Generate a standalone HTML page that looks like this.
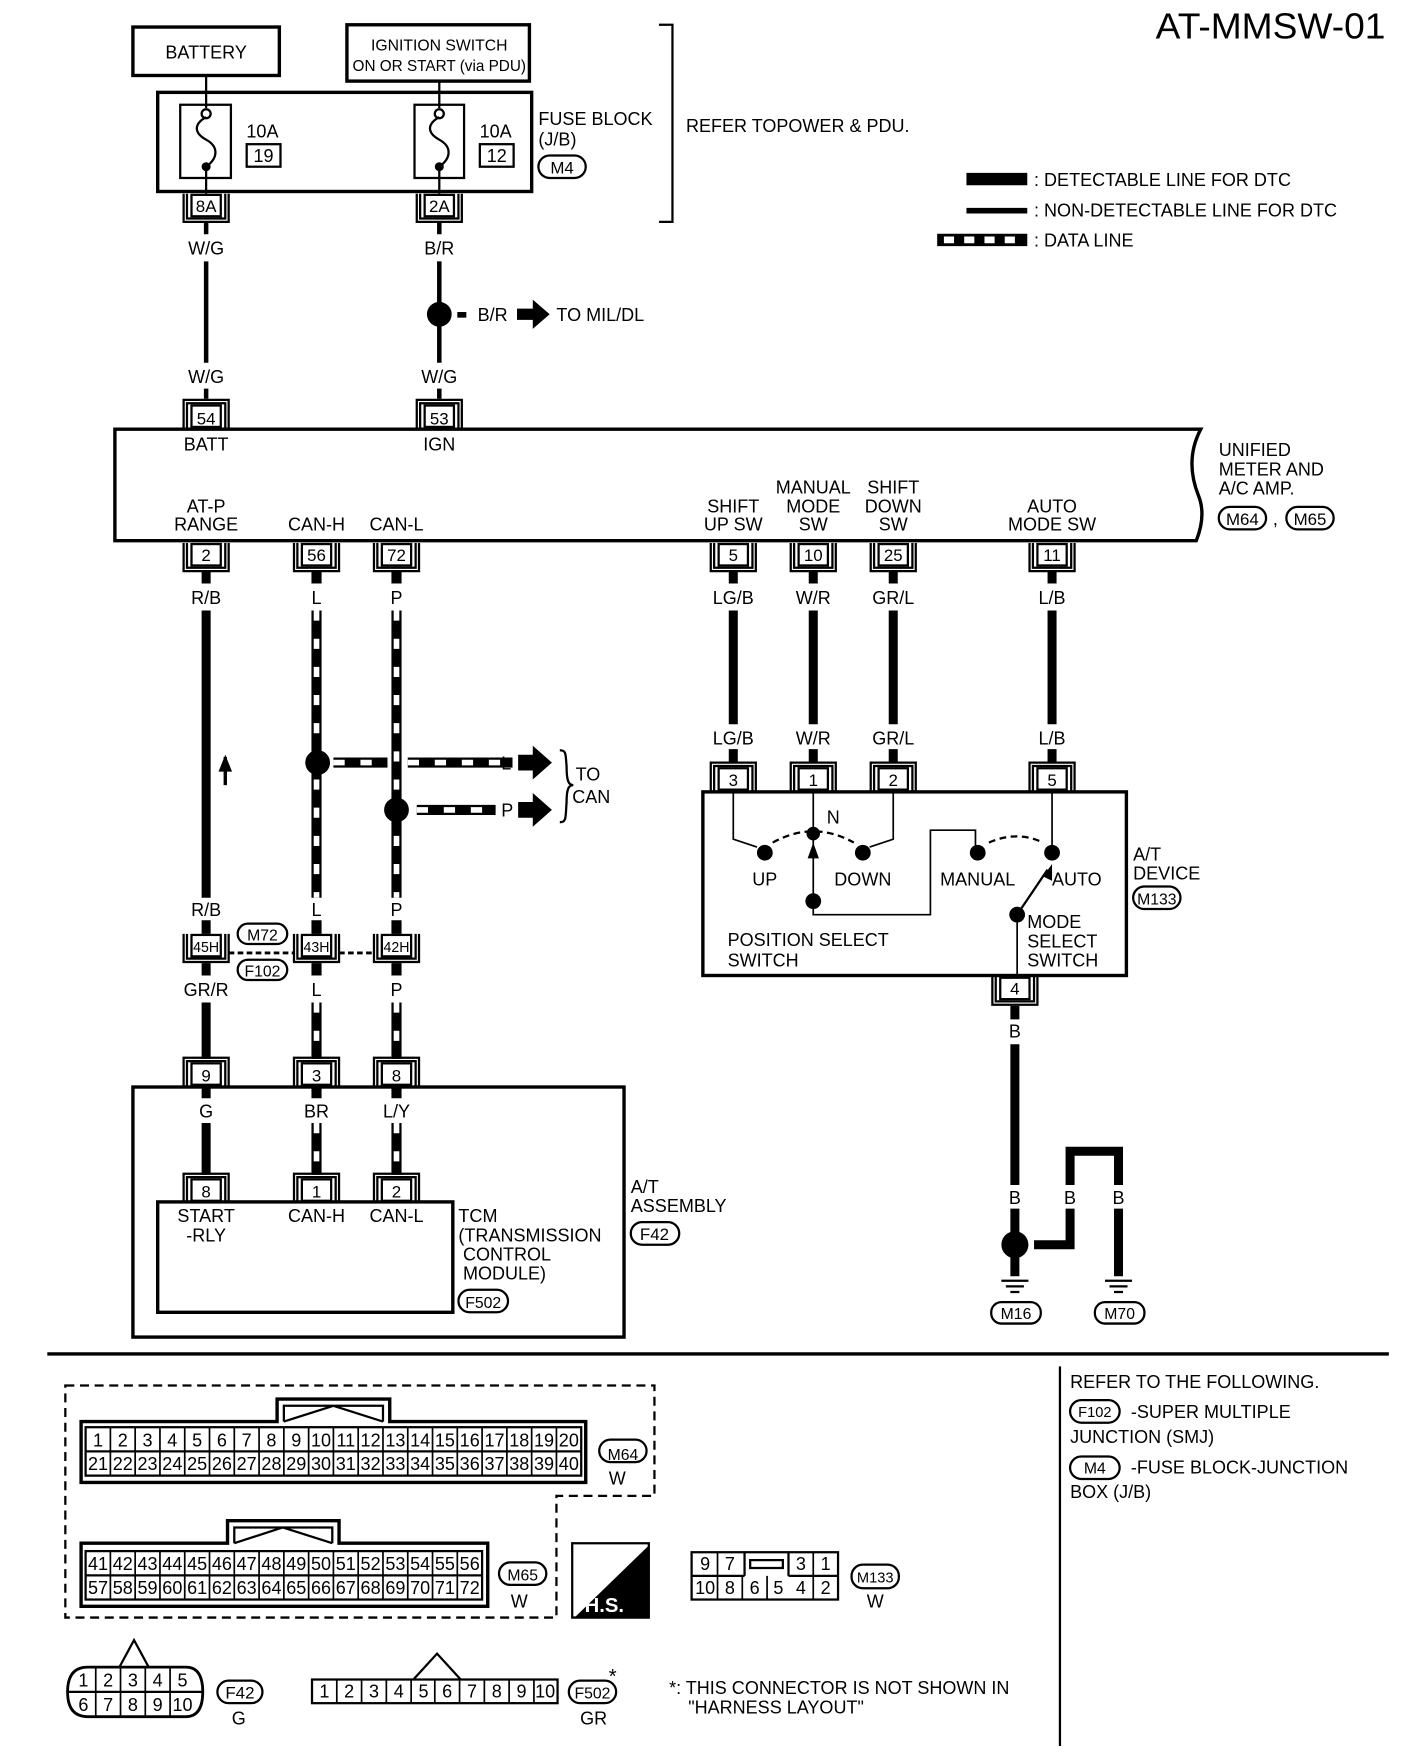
<!DOCTYPE html>
<html><head><meta charset="utf-8"><style>
html,body{margin:0;padding:0;background:#fff}
svg{display:block}
text{font-family:"Liberation Sans Narrow","Liberation Sans",sans-serif;fill:#000;font-size:16px}
.c{text-anchor:middle}
</style></head><body>
<svg width="1408" height="1764" viewBox="0 0 1250 1566" preserveAspectRatio="none" xmlns="http://www.w3.org/2000/svg">
<defs>
<g id="cd"><path d="M-20,0 V25 H20 V0 M-17,0 V22 H17 V0" fill="none" stroke="#000" stroke-width="2"/><rect x="-13" y="1" width="26" height="19" fill="#fff" stroke="#000" stroke-width="2"/></g>
<g id="cu"><path d="M-20,0 V-25 H20 V0 M-17,0 V-22 H17 V0" fill="none" stroke="#000" stroke-width="2"/><rect x="-13" y="-20" width="26" height="19" fill="#fff" stroke="#000" stroke-width="2"/></g>
<g id="gnd"><path d="M-12,0 H12 M-8,5 H8 M-4,10 H4" stroke="#000" stroke-width="2"/></g>
</defs>
<g fill="none" stroke="#000">
<rect x="118" y="24" width="130" height="43" stroke-width="3"/>
<rect x="308" y="22" width="162" height="50" stroke-width="3"/>
<path d="M585,22 H597 V197 H585" stroke-width="2"/>
<rect x="140" y="82" width="332" height="88" stroke-width="3"/>
<rect x="160" y="93" width="45" height="65" stroke-width="2"/>
<rect x="368" y="93" width="44" height="65" stroke-width="2"/>
<rect x="219" y="128" width="30" height="20" stroke-width="2"/>
<rect x="426" y="128" width="30" height="20" stroke-width="2"/>
<rect x="478" y="138" width="42" height="20" rx="10" stroke-width="2"/>
<path d="M183,67 V96 M390,72 V96" stroke-width="2"/>
<path d="M183,104 C172,110 172,118 183,124 C194,130 194,140 183,148 M390,104 C379,110 379,118 390,124 C401,130 401,140 390,148" stroke-width="2"/>
<circle cx="183" cy="101" r="4" stroke-width="2"/><circle cx="390" cy="101" r="4" stroke-width="2"/>
<path d="M183,150 V172 M390,150 V172" stroke-width="2"/>
<path d="M183,197 V208 M183,232 V322 M183,345 V354 M390,197 V208 M390,232 V322 M390,345 V354" stroke-width="4"/>
<path d="M102,381 H1066 C1056,400 1056,420 1064,440 C1070,455 1066,470 1062,480 H102 Z" stroke-width="3"/>
<rect x="1082" y="450" width="42" height="20" rx="10" stroke-width="2"/>
<rect x="1142" y="450" width="42" height="20" rx="10" stroke-width="2"/>
<path d="M183,507 V518 M183,542 V797 M183,817 V829 M183,855 V866 M183,890 V940 M183,964 V975 M183,997 V1043
M651,507 V518 M651,542 V643 M651,665 V677 M722,507 V518 M722,542 V643 M722,665 V677 M793,507 V518 M793,542 V643 M793,665 V677 M934,507 V518 M934,542 V643 M934,665 V677
M901,893 V905 M901,927 V1052 M901,1073 V1095 M901,1115 V1133 M993,1073 V1133 M993,1052 V1022 H950 V1052 M950,1073 V1105 H918" stroke-width="8"/>
<path d="M200,697 V672" stroke-width="3"/>
<path d="M281,507 V518 M281,542 V797 M281,817 V829 M281,855 V866 M281,890 V940 M281,964 V975 M281,997 V1043 M352,507 V518 M352,542 V797 M352,817 V829 M352,855 V866 M352,890 V940 M352,964 V975 M352,997 V1043 M296,677 H344 M362,677 H455 M370,719 H440" stroke-width="9"/>
<path d="M281,542 V797 M352,542 V797 M281,890 V940 M352,890 V940 M281,997 V1043 M352,997 V1043" stroke="#fff" stroke-width="5" stroke-dasharray="9 16"/>
<path d="M296,677 H344 M362,677 H455 M370,719 H440" stroke="#fff" stroke-width="5" stroke-dasharray="10 14"/>
<path d="M497,666 C503,666 502,670 503,680 C503,694 505,697 509,697 C505,697 503,700 503,712 C502,726 503,730 497,730" stroke-width="2"/>
<rect x="211" y="820" width="44" height="18" rx="9" stroke-width="2"/>
<rect x="211" y="852" width="44" height="18" rx="9" stroke-width="2"/>
<path d="M203,846 H261 M301,846 H332" stroke-width="2.5" stroke-dasharray="5 3"/>
<rect x="624" y="703" width="376" height="163" stroke-width="3"/>
<path d="M651,703 V745 L672,752 M793,703 V745 L772,752 M722,703 V800 M722,800 V812 H826 V737 H866 V752 M934,703 V752 M903,812 V867" stroke-width="1.5"/>
<path d="M686,748 Q722,728 758,748 M878,748 Q903,737 926,748" stroke-width="2" stroke-dasharray="6 4"/>
<path d="M903,812 L930,772" stroke-width="2"/>
<rect x="1006" y="787" width="42" height="20" rx="10" stroke-width="2"/>
<rect x="118" y="965" width="436" height="222" stroke-width="3"/>
<rect x="140" y="1067" width="262" height="98" stroke-width="3"/>
<rect x="560" y="1085" width="43" height="20" rx="10" stroke-width="2"/>
<rect x="407" y="1145" width="44" height="20" rx="10" stroke-width="2"/>
<rect x="880" y="1156" width="44" height="19" rx="9" stroke-width="2"/>
<rect x="972" y="1156" width="44" height="19" rx="9" stroke-width="2"/>
<path d="M858,159 H912" stroke-width="11"/>
<path d="M858,187 H912" stroke-width="5"/>
<path d="M832,213 H912" stroke-width="11"/>
<path d="M838,213 H908" stroke="#fff" stroke-width="6" stroke-dasharray="9 9"/>
<path d="M42,1202 H1233" stroke-width="3"/>
<path d="M941,1213 V1550" stroke-width="2"/>
<path d="M58,1230 H581 V1328 H494 V1436 H58 Z" stroke-width="2" stroke-dasharray="8 5"/>
<path d="M72,1316 V1262 H246 V1242 H346 V1262 H520 V1316 Z" stroke-width="3"/>
<path d="M252,1262 V1248 H340 V1262 M252,1262 L296,1248 L340,1262" stroke-width="2"/>
<rect x="76" y="1267" width="440" height="43" stroke-width="2"/>
<path d="M76,1288.5 H516" stroke-width="2"/>
<rect x="532" y="1278" width="42" height="20" rx="10" stroke-width="2"/>
<path d="M72,1426 V1370 H202 V1350 H301 V1370 H433 V1426 Z" stroke-width="3"/>
<path d="M208,1370 V1356 H295 V1370 M208,1370 L251,1356 L295,1370" stroke-width="2"/>
<rect x="76" y="1377" width="352" height="43" stroke-width="2"/>
<path d="M76,1398.5 H428" stroke-width="2"/>
<rect x="443" y="1387" width="42" height="20" rx="10" stroke-width="2"/>
<rect x="614" y="1378" width="130" height="42" stroke-width="2"/>
<path d="M614,1399 H661 M700,1399 H744 M661,1378 V1399 M700,1378 V1399" stroke-width="2"/>
<rect x="666" y="1385" width="29" height="7" stroke-width="2"/>
<rect x="756" y="1389" width="42" height="21" rx="10" stroke-width="2"/>
<path d="M78,1480 H165 Q180,1480 180,1502 Q180,1524 165,1524 H78 Q60,1524 60,1502 Q60,1480 78,1480 Z" stroke-width="2.5"/>
<path d="M60,1502 H180 M106,1480 L119,1456 L132,1480" stroke-width="2"/>
<rect x="193" y="1492" width="40" height="20" rx="10" stroke-width="2"/>
<rect x="277" y="1491" width="218" height="21" stroke-width="2"/>
<path d="M367,1491 L388,1468 L409,1491" stroke-width="2"/>
<rect x="505" y="1492" width="42" height="20" rx="10" stroke-width="2"/>
<rect x="950" y="1243" width="44" height="20" rx="10" stroke-width="2"/>
<rect x="950" y="1293" width="44" height="20" rx="10" stroke-width="2"/>
</g>
<g fill="#000">
<circle cx="183" cy="148" r="4"/><circle cx="390" cy="148" r="4"/>
<circle cx="390" cy="279" r="11"/><rect x="406" y="277" width="8" height="5"/>
<path d="M459,274 H473 V266 L488,279 L473,292 V284 H459 Z"/>
<circle cx="282" cy="677" r="11"/><circle cx="352" cy="719" r="11"/>
<path d="M460,670 H473 V662 L490,677 L473,692 V684 H460 Z M460,712 H473 V704 L490,719 L473,734 V726 H460 Z"/>
<path d="M194,685 L200,670 L206,685 Z"/>
<circle cx="679" cy="757" r="7"/><circle cx="766" cy="757" r="7"/><circle cx="722" cy="740" r="6"/>
<circle cx="722" cy="800" r="7"/><circle cx="868" cy="757" r="7"/><circle cx="934" cy="757" r="7"/><circle cx="903" cy="812" r="7"/>
<path d="M717,762 L722,748 L727,762 Z M926,778 L934,767 L934,782 Z"/>
<circle cx="901" cy="1105" r="12"/>
<path d="M508,1370 H576 V1436 H508 Z" fill="#fff" stroke="#000" stroke-width="2"/>
<path d="M576,1372 V1436 H510 Z"/>
</g>
<g transform="translate(901,1137)"><use href="#gnd"/></g>
<g transform="translate(993,1137)"><use href="#gnd"/></g>
<use href="#cd" x="183" y="172"/><use href="#cd" x="390" y="172"/>
<use href="#cu" x="183" y="380"/><use href="#cu" x="390" y="380"/>
<use href="#cd" x="183" y="482"/><use href="#cd" x="281" y="482"/><use href="#cd" x="352" y="482"/>
<use href="#cd" x="651" y="482"/><use href="#cd" x="722" y="482"/><use href="#cd" x="793" y="482"/><use href="#cd" x="934" y="482"/>
<use href="#cu" x="651" y="702"/><use href="#cu" x="722" y="702"/><use href="#cu" x="793" y="702"/><use href="#cu" x="934" y="702"/>
<use href="#cd" x="901" y="867"/>
<use href="#cd" x="183" y="829"/><use href="#cd" x="281" y="829"/><use href="#cd" x="352" y="829"/>
<use href="#cu" x="183" y="964"/><use href="#cu" x="281" y="964"/><use href="#cu" x="352" y="964"/>
<use href="#cu" x="183" y="1067"/><use href="#cu" x="281" y="1067"/><use href="#cu" x="352" y="1067"/>
<g class="c">
<text x="1128" y="34" style="font-size:32px" textLength="204" lengthAdjust="spacingAndGlyphs">AT-MMSW-01</text>
<text x="183" y="52">BATTERY</text>
<text x="390" y="45" style="font-size:14px">IGNITION SWITCH</text>
<text x="390" y="63" style="font-size:14px" textLength="154" lengthAdjust="spacingAndGlyphs">ON OR START (via PDU)</text>
<text x="233" y="122">10A</text><text x="234" y="144">19</text>
<text x="440" y="122">10A</text><text x="441" y="144">12</text>
<text x="499" y="154" style="font-size:15px">M4</text>
<text x="183" y="188" style="font-size:15px">8A</text><text x="390" y="188" style="font-size:15px">2A</text>
<text x="183" y="226">W/G</text><text x="390" y="226">B/R</text>
<text x="183" y="340">W/G</text><text x="390" y="340">W/G</text>
<text x="183" y="377" style="font-size:15px">54</text><text x="390" y="377" style="font-size:15px">53</text>
<text x="183" y="400">BATT</text><text x="390" y="400">IGN</text>
<text x="183" y="455">AT-P</text><text x="183" y="471">RANGE</text>
<text x="281" y="471">CAN-H</text><text x="352" y="471">CAN-L</text>
<text x="651" y="455">SHIFT</text><text x="651" y="471">UP SW</text>
<text x="722" y="438">MANUAL</text><text x="722" y="455">MODE</text><text x="722" y="471">SW</text>
<text x="793" y="438">SHIFT</text><text x="793" y="455">DOWN</text><text x="793" y="471">SW</text>
<text x="934" y="455">AUTO</text><text x="934" y="471">MODE SW</text>
<text x="1103" y="466" style="font-size:15px">M64</text><text x="1163" y="466" style="font-size:15px">M65</text>
<text x="183" y="498" style="font-size:15px">2</text><text x="281" y="498" style="font-size:15px">56</text><text x="352" y="498" style="font-size:15px">72</text>
<text x="651" y="498" style="font-size:15px">5</text><text x="722" y="498" style="font-size:15px">10</text><text x="793" y="498" style="font-size:15px">25</text><text x="934" y="498" style="font-size:15px">11</text>
<text x="183" y="536">R/B</text><text x="281" y="536">L</text><text x="352" y="536">P</text>
<text x="651" y="536">LG/B</text><text x="722" y="536">W/R</text><text x="793" y="536">GR/L</text><text x="934" y="536">L/B</text>
<text x="651" y="661">LG/B</text><text x="722" y="661">W/R</text><text x="793" y="661">GR/L</text><text x="934" y="661">L/B</text>
<text x="651" y="698" style="font-size:15px">3</text><text x="722" y="698" style="font-size:15px">1</text><text x="793" y="698" style="font-size:15px">2</text><text x="934" y="698" style="font-size:15px">5</text>
<text x="183" y="813">R/B</text><text x="281" y="813">L</text><text x="352" y="813">P</text>
<text x="183" y="845" style="font-size:13px" textLength="23" lengthAdjust="spacingAndGlyphs">45H</text><text x="281" y="845" style="font-size:13px" textLength="23" lengthAdjust="spacingAndGlyphs">43H</text><text x="352" y="845" style="font-size:13px" textLength="23" lengthAdjust="spacingAndGlyphs">42H</text>
<text x="233" y="835" style="font-size:14px">M72</text><text x="233" y="867" style="font-size:14px">F102</text>
<text x="183" y="884">GR/R</text><text x="281" y="884">L</text><text x="352" y="884">P</text>
<text x="183" y="960" style="font-size:15px">9</text><text x="281" y="960" style="font-size:15px">3</text><text x="352" y="960" style="font-size:15px">8</text>
<text x="183" y="992">G</text><text x="281" y="992">BR</text><text x="352" y="992">L/Y</text>
<text x="183" y="1063" style="font-size:15px">8</text><text x="281" y="1063" style="font-size:15px">1</text><text x="352" y="1063" style="font-size:15px">2</text>
<text x="183" y="1085">START</text><text x="183" y="1102">-RLY</text>
<text x="281" y="1085">CAN-H</text><text x="352" y="1085">CAN-L</text>
<text x="581" y="1101" style="font-size:15px">F42</text><text x="429" y="1161" style="font-size:14px">F502</text>
<text x="679" y="786">UP</text><text x="766" y="786">DOWN</text><text x="868" y="786">MANUAL</text><text x="956" y="786">AUTO</text>
<text x="1027" y="803" style="font-size:14px">M133</text>
<text x="901" y="883" style="font-size:15px">4</text><text x="901" y="921">B</text>
<text x="901" y="1069">B</text><text x="950" y="1069">B</text><text x="993" y="1069">B</text>
<text x="902" y="1171" style="font-size:14px">M16</text><text x="994" y="1171" style="font-size:14px">M70</text>
<text x="553" y="1296" style="font-size:14px">M64</text><text x="548" y="1318">W</text>
<text x="464" y="1403" style="font-size:14px">M65</text><text x="461" y="1427">W</text>
<text x="777" y="1405" style="font-size:13px">M133</text><text x="777" y="1427">W</text>
<text x="213" y="1508" style="font-size:15px">F42</text><text x="212" y="1531">G</text>
<text x="526" y="1508" style="font-size:14px">F502</text><text x="527" y="1531">GR</text>
<text x="544" y="1494" style="font-size:18px">*</text>
<text x="972" y="1258" style="font-size:13px">F102</text><text x="972" y="1308" style="font-size:14px">M4</text>
</g>
<g style="font-size:14px" class="c">
<text x="87" y="1284">1</text><text x="109" y="1284">2</text><text x="131" y="1284">3</text><text x="153" y="1284">4</text><text x="175" y="1284">5</text><text x="197" y="1284">6</text><text x="219" y="1284">7</text><text x="241" y="1284">8</text><text x="263" y="1284">9</text><text x="285" y="1284">10</text><text x="307" y="1284">11</text><text x="329" y="1284">12</text><text x="351" y="1284">13</text><text x="373" y="1284">14</text><text x="395" y="1284">15</text><text x="417" y="1284">16</text><text x="439" y="1284">17</text><text x="461" y="1284">18</text><text x="483" y="1284">19</text><text x="505" y="1284">20</text>
<text x="87" y="1305">21</text><text x="109" y="1305">22</text><text x="131" y="1305">23</text><text x="153" y="1305">24</text><text x="175" y="1305">25</text><text x="197" y="1305">26</text><text x="219" y="1305">27</text><text x="241" y="1305">28</text><text x="263" y="1305">29</text><text x="285" y="1305">30</text><text x="307" y="1305">31</text><text x="329" y="1305">32</text><text x="351" y="1305">33</text><text x="373" y="1305">34</text><text x="395" y="1305">35</text><text x="417" y="1305">36</text><text x="439" y="1305">37</text><text x="461" y="1305">38</text><text x="483" y="1305">39</text><text x="505" y="1305">40</text>
<text x="87" y="1394">41</text><text x="109" y="1394">42</text><text x="131" y="1394">43</text><text x="153" y="1394">44</text><text x="175" y="1394">45</text><text x="197" y="1394">46</text><text x="219" y="1394">47</text><text x="241" y="1394">48</text><text x="263" y="1394">49</text><text x="285" y="1394">50</text><text x="307" y="1394">51</text><text x="329" y="1394">52</text><text x="351" y="1394">53</text><text x="373" y="1394">54</text><text x="395" y="1394">55</text><text x="417" y="1394">56</text>
<text x="87" y="1415">57</text><text x="109" y="1415">58</text><text x="131" y="1415">59</text><text x="153" y="1415">60</text><text x="175" y="1415">61</text><text x="197" y="1415">62</text><text x="219" y="1415">63</text><text x="241" y="1415">64</text><text x="263" y="1415">65</text><text x="285" y="1415">66</text><text x="307" y="1415">67</text><text x="329" y="1415">68</text><text x="351" y="1415">69</text><text x="373" y="1415">70</text><text x="395" y="1415">71</text><text x="417" y="1415">72</text>
<text x="626" y="1394">9</text><text x="648" y="1394">7</text><text x="711" y="1394">3</text><text x="733" y="1394">1</text>
<text x="626" y="1415">10</text><text x="648" y="1415">8</text><text x="670" y="1415">6</text><text x="691" y="1415">5</text><text x="711" y="1415">4</text><text x="733" y="1415">2</text>
<text x="74" y="1497">1</text><text x="96" y="1497">2</text><text x="118" y="1497">3</text><text x="140" y="1497">4</text><text x="162" y="1497">5</text>
<text x="74" y="1519">6</text><text x="96" y="1519">7</text><text x="118" y="1519">8</text><text x="140" y="1519">9</text><text x="162" y="1519">10</text>
<text x="288" y="1507">1</text><text x="310" y="1507">2</text><text x="332" y="1507">3</text><text x="354" y="1507">4</text><text x="376" y="1507">5</text><text x="397" y="1507">6</text><text x="419" y="1507">7</text><text x="441" y="1507">8</text><text x="463" y="1507">9</text><text x="484" y="1507">10</text>
</g>
<g stroke="#000" stroke-width="1.5" fill="none">
<path d="M98,1267 V1310 M120,1267 V1310 M142,1267 V1310 M164,1267 V1310 M186,1267 V1310 M208,1267 V1310 M230,1267 V1310 M252,1267 V1310 M274,1267 V1310 M296,1267 V1310 M318,1267 V1310 M340,1267 V1310 M362,1267 V1310 M384,1267 V1310 M406,1267 V1310 M428,1267 V1310 M450,1267 V1310 M472,1267 V1310 M494,1267 V1310"/>
<path d="M98,1377 V1420 M120,1377 V1420 M142,1377 V1420 M164,1377 V1420 M186,1377 V1420 M208,1377 V1420 M230,1377 V1420 M252,1377 V1420 M274,1377 V1420 M296,1377 V1420 M318,1377 V1420 M340,1377 V1420 M362,1377 V1420 M384,1377 V1420 M406,1377 V1420"/>
<path d="M637,1378 V1420 M681,1399 V1420 M722,1378 V1420 M659,1399 V1420"/>
<path d="M85,1480 V1524 M107,1480 V1524 M129,1480 V1524 M151,1480 V1524"/>
<path d="M299,1491 V1512 M321,1491 V1512 M343,1491 V1512 M365,1491 V1512 M386,1491 V1512 M408,1491 V1512 M430,1491 V1512 M452,1491 V1512 M474,1491 V1512"/>
</g>
<g>
<text x="478" y="111">FUSE BLOCK</text><text x="478" y="129">(J/B)</text>
<text x="609" y="117">REFER TOPOWER &amp; PDU.</text>
<text x="918" y="165">: DETECTABLE LINE FOR DTC</text>
<text x="918" y="192">: NON-DETECTABLE LINE FOR DTC</text>
<text x="918" y="219">: DATA LINE</text>
<text x="424" y="285">B/R</text><text x="494" y="285">TO MIL/DL</text>
<text x="1082" y="405">UNIFIED</text><text x="1082" y="422">METER AND</text><text x="1082" y="439">A/C AMP.</text>
<text x="1130" y="466">,</text>
<text x="445" y="683">L</text><text x="445" y="725">P</text>
<text x="511" y="693">TO</text><text x="508" y="713">CAN</text>
<text x="734" y="731">N</text>
<text x="646" y="840">POSITION SELECT</text><text x="646" y="858">SWITCH</text>
<text x="912" y="824">MODE</text><text x="912" y="841">SELECT</text><text x="912" y="858">SWITCH</text>
<text x="1006" y="764">A/T</text><text x="1006" y="781">DEVICE</text>
<text x="560" y="1059">A/T</text><text x="560" y="1076">ASSEMBLY</text>
<text x="407" y="1085">TCM</text><text x="407" y="1102">(TRANSMISSION</text><text x="411" y="1119">CONTROL</text><text x="411" y="1136">MODULE)</text>
<text x="950" y="1232">REFER TO THE FOLLOWING.</text>
<text x="1004" y="1259">-SUPER MULTIPLE</text>
<text x="950" y="1281">JUNCTION (SMJ)</text>
<text x="1004" y="1308">-FUSE BLOCK-JUNCTION</text>
<text x="950" y="1330">BOX (J/B)</text>
<text x="594" y="1504">*: THIS CONNECTOR IS NOT SHOWN IN</text>
<text x="611" y="1521">"HARNESS LAYOUT"</text>
<text x="519" y="1431" style="font-size:18px;fill:#fff;font-weight:bold">H.S.</text>
</g>
</svg>
</body></html>
